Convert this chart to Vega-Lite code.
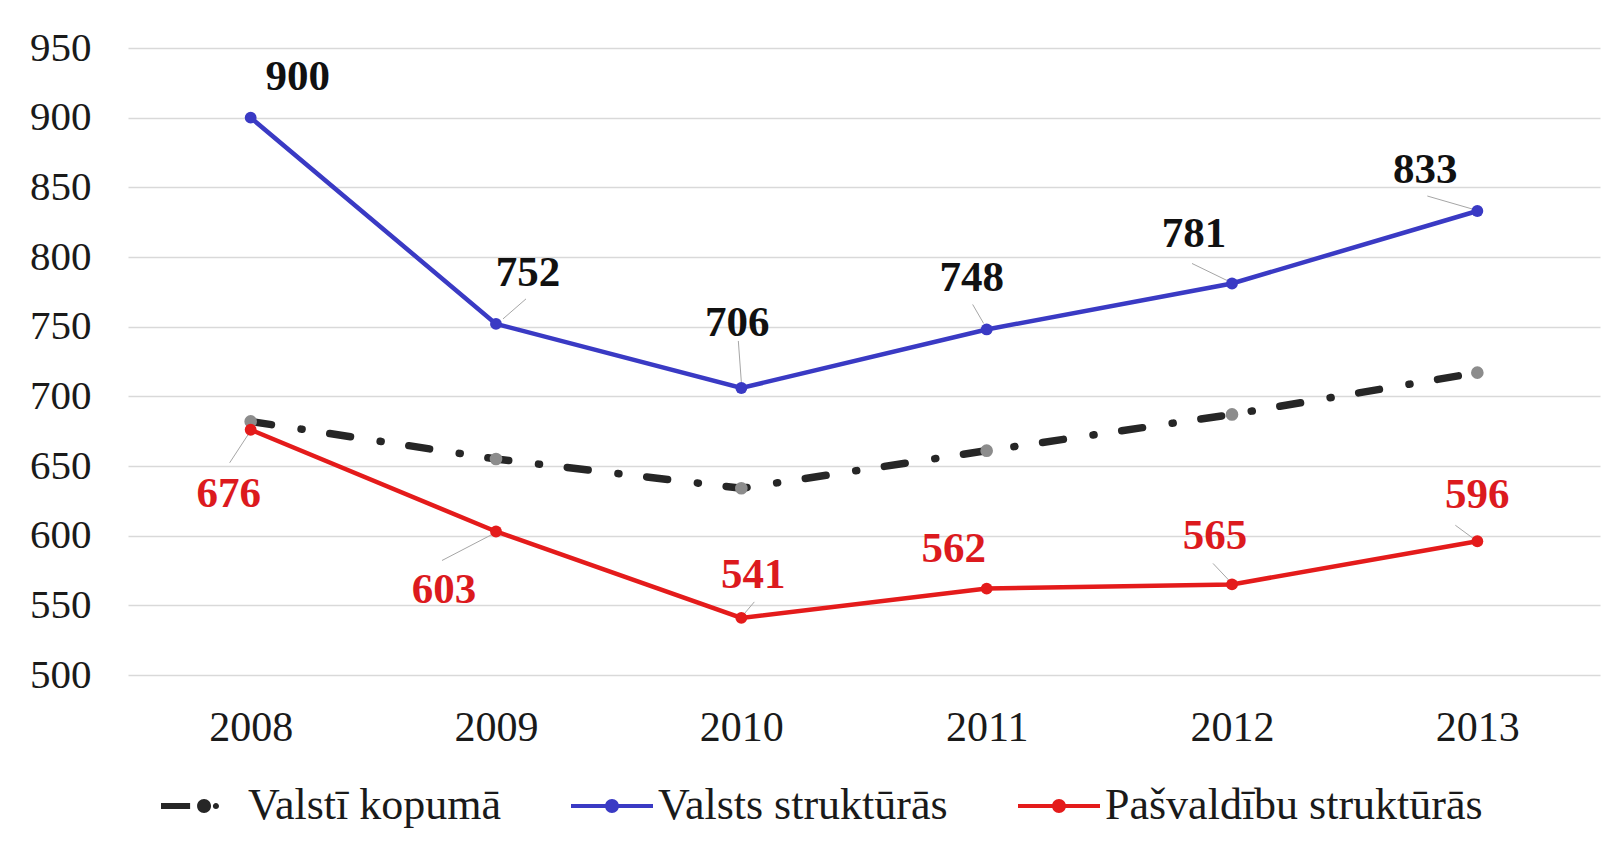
{
  "$schema": "https://vega.github.io/schema/vega-lite/v6.json",
  "width": 1472,
  "height": 627,
  "autosize": {"type": "none"},
  "padding": {"left": 128, "top": 48, "right": 19, "bottom": 175},
  "background": "white",
  "config": {"view": {"stroke": null}, "font": "Liberation Serif"},
  "data": {
    "values": [
      {"year": "2008", "series": "Valstī kopumā", "value": 682},
      {"year": "2009", "series": "Valstī kopumā", "value": 655},
      {"year": "2010", "series": "Valstī kopumā", "value": 634},
      {"year": "2011", "series": "Valstī kopumā", "value": 661},
      {"year": "2012", "series": "Valstī kopumā", "value": 687},
      {"year": "2013", "series": "Valstī kopumā", "value": 717},
      {"year": "2008", "series": "Valsts struktūrās", "value": 900},
      {"year": "2009", "series": "Valsts struktūrās", "value": 752},
      {"year": "2010", "series": "Valsts struktūrās", "value": 706},
      {"year": "2011", "series": "Valsts struktūrās", "value": 748},
      {"year": "2012", "series": "Valsts struktūrās", "value": 781},
      {"year": "2013", "series": "Valsts struktūrās", "value": 833},
      {"year": "2008", "series": "Pašvaldību struktūrās", "value": 676},
      {"year": "2009", "series": "Pašvaldību struktūrās", "value": 603},
      {"year": "2010", "series": "Pašvaldību struktūrās", "value": 541},
      {"year": "2011", "series": "Pašvaldību struktūrās", "value": 562},
      {"year": "2012", "series": "Pašvaldību struktūrās", "value": 565},
      {"year": "2013", "series": "Pašvaldību struktūrās", "value": 596}
    ]
  },
  "encoding": {
    "x": {
      "field": "year", "type": "ordinal",
      "scale": {"type": "point", "padding": 0.5},
      "axis": {"title": null, "labelAngle": 0, "labelFont": "Liberation Serif", "labelFontSize": 42, "labelColor": "#1a1a1a", "labelPadding": 32, "domain": false, "ticks": false, "grid": false}
    },
    "y": {
      "field": "value", "type": "quantitative",
      "scale": {"domain": [500, 950], "nice": false, "zero": false},
      "axis": {"title": null, "values": [500, 550, 600, 650, 700, 750, 800, 850, 900, 950], "labelFont": "Liberation Serif", "labelFontSize": 41, "labelColor": "#1a1a1a", "labelPadding": 37, "domain": false, "ticks": false, "grid": true, "gridColor": "#d9d9d9", "gridWidth": 1.5}
    }
  },
  "layer": [
    {"transform": [{"filter": "datum.series === 'Valsts struktūrās' && datum.year === '2009'"}], "mark": {"type": "rule", "xOffset": 7, "yOffset": -5, "x2Offset": 30, "y2Offset": -25, "color": "#a6a6a6", "strokeWidth": 1}, "encoding": {"x2": {"field": "year"}, "y2": {"field": "value"}}},
    {"transform": [{"filter": "datum.series === 'Valsts struktūrās' && datum.year === '2010'"}], "mark": {"type": "rule", "xOffset": 0, "yOffset": -6, "x2Offset": -3, "y2Offset": -47, "color": "#a6a6a6", "strokeWidth": 1}, "encoding": {"x2": {"field": "year"}, "y2": {"field": "value"}}},
    {"transform": [{"filter": "datum.series === 'Valsts struktūrās' && datum.year === '2011'"}], "mark": {"type": "rule", "xOffset": -3, "yOffset": -6, "x2Offset": -14, "y2Offset": -25, "color": "#a6a6a6", "strokeWidth": 1}, "encoding": {"x2": {"field": "year"}, "y2": {"field": "value"}}},
    {"transform": [{"filter": "datum.series === 'Valsts struktūrās' && datum.year === '2012'"}], "mark": {"type": "rule", "xOffset": -5, "yOffset": -3, "x2Offset": -40, "y2Offset": -20, "color": "#a6a6a6", "strokeWidth": 1}, "encoding": {"x2": {"field": "year"}, "y2": {"field": "value"}}},
    {"transform": [{"filter": "datum.series === 'Valsts struktūrās' && datum.year === '2013'"}], "mark": {"type": "rule", "xOffset": -5, "yOffset": -2, "x2Offset": -50, "y2Offset": -15, "color": "#a6a6a6", "strokeWidth": 1}, "encoding": {"x2": {"field": "year"}, "y2": {"field": "value"}}},
    {"transform": [{"filter": "datum.series === 'Pašvaldību struktūrās' && datum.year === '2008'"}], "mark": {"type": "rule", "xOffset": -2, "yOffset": 4, "x2Offset": -21, "y2Offset": 33, "color": "#a6a6a6", "strokeWidth": 1}, "encoding": {"x2": {"field": "year"}, "y2": {"field": "value"}}},
    {"transform": [{"filter": "datum.series === 'Pašvaldību struktūrās' && datum.year === '2009'"}], "mark": {"type": "rule", "xOffset": -4, "yOffset": 3, "x2Offset": -54, "y2Offset": 29, "color": "#a6a6a6", "strokeWidth": 1}, "encoding": {"x2": {"field": "year"}, "y2": {"field": "value"}}},
    {"transform": [{"filter": "datum.series === 'Pašvaldību struktūrās' && datum.year === '2010'"}], "mark": {"type": "rule", "xOffset": 2, "yOffset": -3, "x2Offset": 13, "y2Offset": -16, "color": "#a6a6a6", "strokeWidth": 1}, "encoding": {"x2": {"field": "year"}, "y2": {"field": "value"}}},
    {"transform": [{"filter": "datum.series === 'Pašvaldību struktūrās' && datum.year === '2012'"}], "mark": {"type": "rule", "xOffset": -2, "yOffset": -3, "x2Offset": -19, "y2Offset": -21, "color": "#a6a6a6", "strokeWidth": 1}, "encoding": {"x2": {"field": "year"}, "y2": {"field": "value"}}},
    {"transform": [{"filter": "datum.series === 'Pašvaldību struktūrās' && datum.year === '2013'"}], "mark": {"type": "rule", "xOffset": -3, "yOffset": -2, "x2Offset": -22, "y2Offset": -16, "color": "#a6a6a6", "strokeWidth": 1}, "encoding": {"x2": {"field": "year"}, "y2": {"field": "value"}}},
    {
      "transform": [{"filter": "datum.series === 'Valstī kopumā'"}],
      "mark": {"type": "line", "strokeWidth": 7.5, "strokeCap": "round", "strokeDash": [21, 30, 1, 28]},
      "encoding": {
        "color": {
          "field": "series", "type": "nominal",
          "scale": {"domain": ["Valstī kopumā", "Valsts struktūrās", "Pašvaldību struktūrās"], "range": ["#262626", "#3a3ac4", "#e41b1b"]},
          "legend": {
            "title": null, "orient": "bottom", "direction": "horizontal",
            "labelFont": "Liberation Serif", "labelFontSize": 44, "labelColor": "#1a1a1a", "labelLimit": 800,
            "labelOffset": 5, "symbolSize": 6724, "columnPadding": 70, "offset": -16, "padding": 33,
            "encode": {
              "symbols": {
                "update": {
                  "shape": {"signal": "datum.value === 'Valstī kopumā' ? 'M-1,-0.075H-0.29V0.075H-1Z M0.22,0A0.17,0.17,0,1,1,-0.12,0A0.17,0.17,0,1,1,0.22,0Z M0.415,0A0.075,0.075,0,1,1,0.265,0A0.075,0.075,0,1,1,0.415,0Z' : 'M-1,-0.05H1V0.05H-1Z M0.17,0A0.17,0.17,0,1,1,-0.17,0A0.17,0.17,0,1,1,0.17,0Z'"},
                  "fill": {"scale": "color", "field": "value"},
                  "stroke": {"value": "transparent"},
                  "strokeWidth": {"value": 0},
                  "opacity": {"value": 1}
                }
              }
            }
          }
        }
      }
    },
    {
      "transform": [{"filter": "datum.series !== 'Valstī kopumā'"}],
      "mark": {"type": "line", "strokeWidth": 4.5},
      "encoding": {
        "color": {"field": "series", "type": "nominal", "scale": {"domain": ["Valstī kopumā", "Valsts struktūrās", "Pašvaldību struktūrās"], "range": ["#262626", "#3a3ac4", "#e41b1b"]}}
      }
    },
    {
      "transform": [{"filter": "datum.series === 'Valstī kopumā'"}],
      "mark": {"type": "point", "filled": true, "size": 160, "color": "#8c8c8c", "opacity": 1}
    },
    {
      "transform": [{"filter": "datum.series !== 'Valstī kopumā'"}],
      "mark": {"type": "point", "filled": true, "size": 140, "opacity": 1},
      "encoding": {
        "color": {"field": "series", "type": "nominal", "scale": {"domain": ["Valstī kopumā", "Valsts struktūrās", "Pašvaldību struktūrās"], "range": ["#262626", "#3a3ac4", "#e41b1b"]}}
      }
    },
    {"transform": [{"filter": "datum.series === 'Valsts struktūrās' && datum.year === '2008'"}], "mark": {"type": "text", "dx": 47, "dy": -41, "fontSize": 43, "fontWeight": "bold", "font": "Liberation Serif", "color": "#111111"}, "encoding": {"text": {"field": "value"}}},
    {"transform": [{"filter": "datum.series === 'Valsts struktūrās' && datum.year === '2009'"}], "mark": {"type": "text", "dx": 32, "dy": -51, "fontSize": 43, "fontWeight": "bold", "font": "Liberation Serif", "color": "#111111"}, "encoding": {"text": {"field": "value"}}},
    {"transform": [{"filter": "datum.series === 'Valsts struktūrās' && datum.year === '2010'"}], "mark": {"type": "text", "dx": -4, "dy": -65, "fontSize": 43, "fontWeight": "bold", "font": "Liberation Serif", "color": "#111111"}, "encoding": {"text": {"field": "value"}}},
    {"transform": [{"filter": "datum.series === 'Valsts struktūrās' && datum.year === '2011'"}], "mark": {"type": "text", "dx": -15, "dy": -51, "fontSize": 43, "fontWeight": "bold", "font": "Liberation Serif", "color": "#111111"}, "encoding": {"text": {"field": "value"}}},
    {"transform": [{"filter": "datum.series === 'Valsts struktūrās' && datum.year === '2012'"}], "mark": {"type": "text", "dx": -38, "dy": -49, "fontSize": 43, "fontWeight": "bold", "font": "Liberation Serif", "color": "#111111"}, "encoding": {"text": {"field": "value"}}},
    {"transform": [{"filter": "datum.series === 'Valsts struktūrās' && datum.year === '2013'"}], "mark": {"type": "text", "dx": -52, "dy": -41, "fontSize": 43, "fontWeight": "bold", "font": "Liberation Serif", "color": "#111111"}, "encoding": {"text": {"field": "value"}}},
    {"transform": [{"filter": "datum.series === 'Pašvaldību struktūrās' && datum.year === '2008'"}], "mark": {"type": "text", "dx": -22, "dy": 64, "fontSize": 43, "fontWeight": "bold", "font": "Liberation Serif", "color": "#dc1a1e"}, "encoding": {"text": {"field": "value"}}},
    {"transform": [{"filter": "datum.series === 'Pašvaldību struktūrās' && datum.year === '2009'"}], "mark": {"type": "text", "dx": -52, "dy": 59, "fontSize": 43, "fontWeight": "bold", "font": "Liberation Serif", "color": "#dc1a1e"}, "encoding": {"text": {"field": "value"}}},
    {"transform": [{"filter": "datum.series === 'Pašvaldību struktūrās' && datum.year === '2010'"}], "mark": {"type": "text", "dx": 12, "dy": -43, "fontSize": 43, "fontWeight": "bold", "font": "Liberation Serif", "color": "#dc1a1e"}, "encoding": {"text": {"field": "value"}}},
    {"transform": [{"filter": "datum.series === 'Pašvaldību struktūrās' && datum.year === '2011'"}], "mark": {"type": "text", "dx": -33, "dy": -40, "fontSize": 43, "fontWeight": "bold", "font": "Liberation Serif", "color": "#dc1a1e"}, "encoding": {"text": {"field": "value"}}},
    {"transform": [{"filter": "datum.series === 'Pašvaldību struktūrās' && datum.year === '2012'"}], "mark": {"type": "text", "dx": -17, "dy": -48, "fontSize": 43, "fontWeight": "bold", "font": "Liberation Serif", "color": "#dc1a1e"}, "encoding": {"text": {"field": "value"}}},
    {"transform": [{"filter": "datum.series === 'Pašvaldību struktūrās' && datum.year === '2013'"}], "mark": {"type": "text", "dx": 0, "dy": -46, "fontSize": 43, "fontWeight": "bold", "font": "Liberation Serif", "color": "#dc1a1e"}, "encoding": {"text": {"field": "value"}}}
  ]
}
